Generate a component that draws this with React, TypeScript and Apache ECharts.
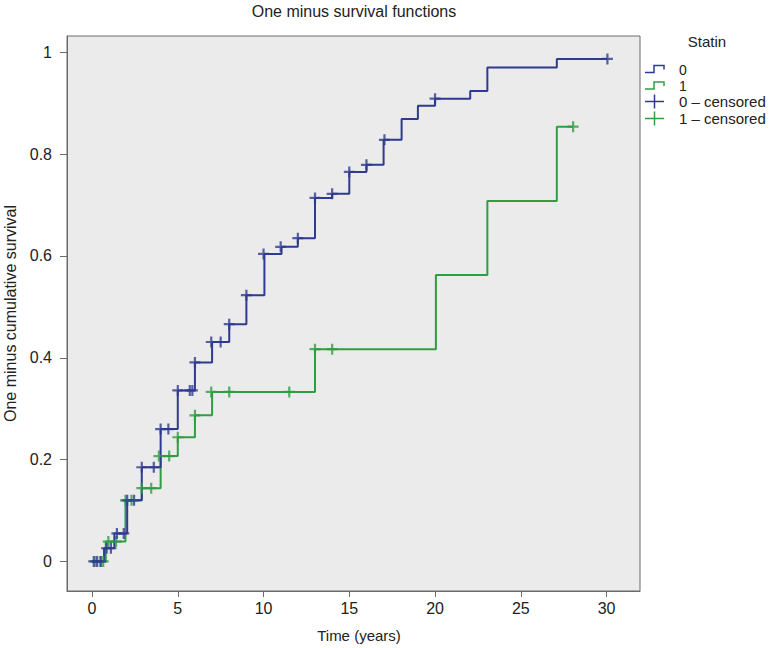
import React, { useEffect, useRef } from "react";
import * as echarts from "echarts";

// Statin 0: event times (years) and one-minus-survival level after each step
const blueTimes = [0, 0.7, 1.3, 2.05, 2.9, 4.0, 5.0, 6.0, 7.0, 8.0, 9.0, 10.05, 11.05, 12.0, 13.0, 14.0, 15.0, 16.0, 17.0, 18.05, 19.0, 20.0, 22.05, 23.05, 27.1, 30.05];
const blueValues = [0, 0.026, 0.055, 0.12, 0.185, 0.26, 0.336, 0.391, 0.431, 0.466, 0.523, 0.604, 0.618, 0.635, 0.714, 0.722, 0.765, 0.779, 0.828, 0.869, 0.895, 0.909, 0.924, 0.97, 0.987, 0.987];

// Statin 1
const greenTimes = [0, 0.8, 1.95, 2.9, 4.0, 5.0, 6.0, 7.0, 13.0, 20.05, 23.05, 27.1, 28.05];
const greenValues = [0, 0.039, 0.12, 0.144, 0.207, 0.244, 0.287, 0.333, 0.417, 0.5625, 0.708, 0.854, 0.854];

// Censored observations
const blueCensTimes = [0.1, 0.3, 0.5, 0.85, 1.1, 1.45, 1.85, 2.05, 2.45, 2.9, 3.6, 4.0, 4.45, 5.0, 5.7, 5.85, 6.0, 6.95, 7.5, 8.0, 9.0, 10.0, 11.0, 12.0, 13.0, 14.0, 15.0, 16.0, 17.05, 20.0, 30.05];
const blueCensValues = [0, 0, 0, 0.026, 0.026, 0.055, 0.055, 0.12, 0.12, 0.185, 0.185, 0.26, 0.26, 0.336, 0.336, 0.336, 0.391, 0.431, 0.431, 0.466, 0.523, 0.604, 0.618, 0.635, 0.714, 0.722, 0.765, 0.779, 0.828, 0.909, 0.987];
const greenCensTimes = [0.2, 0.5, 0.65, 0.95, 1.4, 1.95, 2.3, 2.9, 3.45, 3.9, 4.5, 5.0, 6.0, 6.95, 8.0, 11.5, 13.0, 14.0, 28.05];
const greenCensValues = [0, 0, 0, 0.039, 0.039, 0.12, 0.12, 0.144, 0.144, 0.207, 0.207, 0.244, 0.287, 0.333, 0.333, 0.333, 0.417, 0.417, 0.854];

const xTicks = [0, 5, 10, 15, 20, 25, 30];
const yTicks = [0, 0.2, 0.4, 0.6, 0.8, 1];

const legendTitle = "Statin";
const legendLabels = ["0", "1", "0 \u2013 censored", "1 \u2013 censored"];

const BLUE = "#2f3b8e";
const GREEN = "#2f9e42";
const FONT = "Liberation Sans, Arial, sans-serif";

const zip = (a: number[], b: number[]) => a.map((t, i) => [t, b[i]]);
const CROSS = "path://M0,4H10V6H0Z M4,0H6V10H4Z";

export default function App() {
  const ref = useRef<HTMLDivElement>(null);
  useEffect(() => {
    if (!ref.current) return;
    const chart = echarts.init(ref.current, null, { renderer: "svg" });
    const GL = 67, GT = 36, GW = 573, GH = 555;
    const lx = 645;
    const legendGraphics: any[] = [
      { type: "text", x: 707, y: 41, style: { text: legendTitle, font: `15px ${FONT}`, fill: "#222", textAlign: "center", textVerticalAlign: "middle" } },
    ];
    [BLUE, GREEN].forEach((c, i) => {
      const y = 72.5 + i * 16.5;
      legendGraphics.push({ type: "polyline", shape: { points: [[lx, y], [lx + 9, y], [lx + 9, y - 7], [lx + 19, y - 7], [lx + 19, y - 3]] }, style: { stroke: c, lineWidth: 1.5, fill: null } });
      legendGraphics.push({ type: "text", x: 679, y: y - 3, style: { text: legendLabels[i], font: `14px ${FONT}`, fill: "#222", textVerticalAlign: "middle" } });
    });
    [BLUE, GREEN].forEach((c, i) => {
      const y = 101.5 + i * 17;
      legendGraphics.push({ type: "line", shape: { x1: lx, y1: y, x2: lx + 19, y2: y }, style: { stroke: c, lineWidth: 1.5 } });
      legendGraphics.push({ type: "line", shape: { x1: lx + 9.5, y1: y - 7, x2: lx + 9.5, y2: y + 7 }, style: { stroke: c, lineWidth: 1.5 } });
      legendGraphics.push({ type: "text", x: 679, y, style: { text: legendLabels[2 + i], font: `15px ${FONT}`, fill: "#222", textVerticalAlign: "middle" } });
    });

    chart.setOption({
      animation: false,
      backgroundColor: "#ffffff",
      textStyle: { fontFamily: FONT },
      grid: { left: GL, top: GT, width: GW, height: GH, show: true, containLabel: false, outerBoundsMode: "none", backgroundColor: "#ebebeb", borderColor: "#6b6b6b", borderWidth: 1 },
      xAxis: {
        type: "value",
        min: -1.46,
        max: 31.95,
        axisLine: { show: true, onZero: false, lineStyle: { color: "#6b6b6b" } },
        axisTick: { show: true, length: 6, customValues: xTicks, lineStyle: { color: "#6b6b6b" } },
        axisLabel: { customValues: xTicks, fontSize: 16, color: "#222", margin: 9, fontFamily: FONT },
        splitLine: { show: false },
      },
      yAxis: {
        type: "value",
        min: -0.058,
        max: 1.032,
        name: "One minus cumulative survival",
        nameLocation: "middle",
        nameGap: 49,
        nameTextStyle: { fontSize: 16, color: "#222", fontFamily: FONT },
        axisLine: { show: true, onZero: false, lineStyle: { color: "#6b6b6b" } },
        axisTick: { show: true, length: 7, customValues: yTicks, lineStyle: { color: "#6b6b6b" } },
        axisLabel: { customValues: yTicks, fontSize: 16, color: "#222", margin: 15, fontFamily: FONT, formatter: (v: number) => String(Math.round(v * 10) / 10) },
        splitLine: { show: false },
      },
      graphic: [
        { type: "text", x: 354, y: 11, style: { text: "One minus survival functions", font: `16px ${FONT}`, fill: "#222", textAlign: "center", textVerticalAlign: "middle" } },
        { type: "text", x: 359, y: 635, style: { text: "Time (years)", font: `15px ${FONT}`, fill: "#222", textAlign: "center", textVerticalAlign: "middle" } },
        ...legendGraphics,
      ],
      series: [
        { name: "1", type: "line", step: "end", data: zip(greenTimes, greenValues), showSymbol: false, lineStyle: { color: GREEN, width: 2 }, z: 2 },
        { name: "0", type: "line", step: "end", data: zip(blueTimes, blueValues), showSymbol: false, lineStyle: { color: BLUE, width: 2 }, z: 3 },
        { name: "1 – censored", type: "scatter", data: zip(greenCensTimes, greenCensValues), symbol: CROSS, symbolSize: 11, itemStyle: { color: GREEN }, z: 4 },
        { name: "0 – censored", type: "scatter", data: zip(blueCensTimes, blueCensValues), symbol: CROSS, symbolSize: 11, itemStyle: { color: BLUE }, z: 5 },
      ],
    });
    return () => chart.dispose();
  }, []);
  return <div ref={ref} style={{ position: "fixed", left: 0, top: 0, width: 775, height: 648 }} />;
}
